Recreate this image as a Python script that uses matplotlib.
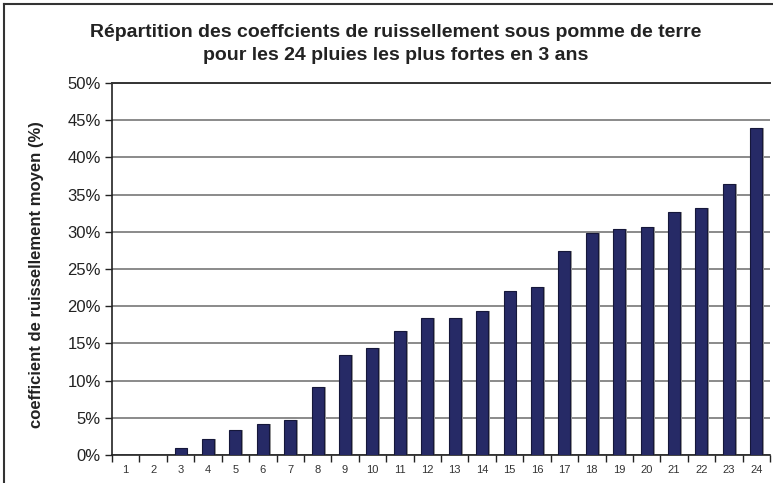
import matplotlib
matplotlib.use("Agg")
import matplotlib.pyplot as plt
from matplotlib.lines import Line2D
from matplotlib.ticker import FixedLocator

categories = [str(i) for i in range(1, 25)]
values = [0.0, 0.0, 1.0, 2.2, 3.4, 4.2, 4.7, 9.1, 13.4, 14.4, 16.7, 18.4,
          18.4, 19.4, 22.0, 22.6, 27.4, 29.8, 30.4, 30.6, 32.7, 33.2, 36.4, 43.9]
yticks = [0, 5, 10, 15, 20, 25, 30, 35, 40, 45, 50]
ytick_labels = [f"{v}%" for v in yticks]
title = "Répartition des coeffcients de ruissellement sous pomme de terre\npour les 24 pluies les plus fortes en 3 ans"
ylabel = "coefficient de ruissellement moyen (%)"

plt.rcParams['font.family'] = ['Liberation Sans', 'DejaVu Sans']

W, H = 773, 483
fig = plt.figure(figsize=(W / 100, H / 100), dpi=100)
fig.patch.set_facecolor('white')

left, right, top, bottom = 112, 770, 83, 455
ax = fig.add_axes([left / W, 1 - bottom / H, (right - left) / W, (bottom - top) / H])

x = list(range(len(categories)))
# shadow
ax.bar([xi + 0.07 for xi in x], values, width=0.44, color='#9a9a9a', zorder=2, linewidth=0)
ax.bar(x, values, width=0.44, color='#262a66', edgecolor='#15173a', linewidth=0.8, zorder=3)

ax.set_xlim(-0.5, len(categories) - 0.5)
ax.set_ylim(0, 50)
ax.set_yticks(yticks)
ax.set_yticklabels(ytick_labels, fontsize=12, color='#222222')
ax.set_xticks(x)
ax.set_xticklabels(categories, fontsize=8, color='#333333')
ax.xaxis.set_minor_locator(FixedLocator([i - 0.5 for i in range(len(categories) + 1)]))
ax.tick_params(axis='x', which='major', length=0, pad=7)
ax.tick_params(axis='x', which='minor', length=5, direction='out', color='#222222', width=1)
ax.tick_params(axis='y', length=5, direction='out', color='#222222', width=1, pad=3)

ax.yaxis.grid(True, color='#8a8a8a', linewidth=1.4, zorder=1)
ax.set_axisbelow(True)
for s in ['top', 'right']:
    ax.spines[s].set_visible(False)
ax.spines['left'].set_color('#222222')
ax.spines['left'].set_linewidth(1.2)
ax.spines['bottom'].set_color('#222222')
ax.spines['bottom'].set_linewidth(1.2)
ax.axhline(50, color='#333333', linewidth=1.4, zorder=4, clip_on=False)

ax.set_ylabel(ylabel, fontsize=12, fontweight='bold', color='#222222')
ax.yaxis.set_label_coords(-0.104, 0.485)

fig.text(396 / W, 1 - 44 / H, title, ha='center', va='center', fontsize=14,
         fontweight='bold', color='#222222', linespacing=1.5)

# outer frame (partially cropped)
fig.add_artist(Line2D([4 / W, 4 / W], [1 - 4 / H, 0], transform=fig.transFigure, color='#333333', linewidth=1.5))
fig.add_artist(Line2D([4 / W, 1], [1 - 4 / H, 1 - 4 / H], transform=fig.transFigure, color='#333333', linewidth=1.5))

fig.savefig('out.png', dpi=100, facecolor='white')
